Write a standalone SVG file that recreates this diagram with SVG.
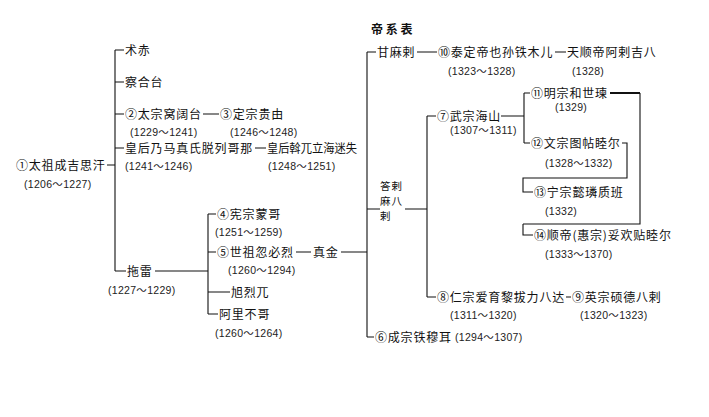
<svg xmlns="http://www.w3.org/2000/svg" width="709" height="417" viewBox="0 0 709 417">
<style>
text{font-family:"Noto Sans CJK SC","Liberation Sans",sans-serif;font-size:12px;fill:#111;letter-spacing:0.8px}
.y{font-size:10.5px;font-family:"Liberation Sans","Noto Sans CJK SC",sans-serif;fill:#222;letter-spacing:0.3px}
.t{font-weight:bold;font-size:12px;letter-spacing:0}
.s{font-size:10.5px;letter-spacing:1px}
#conn path{fill:none;stroke:#111;stroke-width:1.1}
</style>
<rect width="709" height="417" fill="#fff"/>
<text class="t" x="371" y="34">帝 系 表</text>
<g id="conn">
<path d="M107 165H115M115 50V271M115 50H124M115 82H124M115 114H124M203 114H219M115 148H124M255 148H266M115 271H126M155 271H208M208 214V314M208 214H216M208 252H216M296 252H311M341 252H367M208 292H230M208 314H218M367 52V337M367 52H376M417 52H437M555 52H566M367 209H380M405 209H427M427 116V297M427 116H436M501 116H524M524 93V143M524 93H530M524 143H530M622 143H627V178H523V192H533M523 224H640V93M523 224V235H533M427 297H436M566 297H571M367 337H374"/>
<path d="M610 93H640" style="stroke-width:2"/>
</g>
<g id="n1"><text x="16" y="170">①太祖成吉思汗</text><text class="y" x="24" y="188">(1206～1227)</text></g>
<g id="n-zhuchi"><text x="125" y="55">术赤</text></g>
<g id="n-chahetai"><text x="125" y="87">察合台</text></g>
<g id="n2"><text x="125" y="119">②太宗窝阔台</text><text class="y" x="130" y="136">(1229～1241)</text></g>
<g id="n3"><text x="220" y="119">③定宗贵由</text><text class="y" x="230" y="136">(1246～1248)</text></g>
<g id="n-nmz"><text x="125" y="153">皇后乃马真氏脱列哥那</text><text class="y" x="125" y="170">(1241～1246)</text></g>
<g id="n-hmsh"><text x="267" y="153" textLength="90" lengthAdjust="spacingAndGlyphs" style="letter-spacing:0">皇后斡兀立海迷失</text><text class="y" x="268" y="170">(1248～1251)</text></g>
<g id="n-tuolei"><text x="127" y="276">拖雷</text><text class="y" x="108" y="294">(1227～1229)</text></g>
<g id="n4"><text x="217" y="219">④宪宗蒙哥</text><text class="y" x="215" y="236">(1251～1259)</text></g>
<g id="n5"><text x="217" y="257">⑤世祖忽必烈</text><text class="y" x="228" y="274">(1260～1294)</text></g>
<g id="n-zhenjin"><text x="313" y="257">真金</text></g>
<g id="n-xuliewu"><text x="231" y="297">旭烈兀</text></g>
<g id="n-alibuge"><text x="219" y="319">阿里不哥</text><text class="y" x="215" y="337">(1260～1264)</text></g>
<g id="n-ganmala"><text x="377" y="57">甘麻剌</text></g>
<g id="n10"><text x="438" y="57">⑩泰定帝也孙铁木儿</text><text class="y" x="448" y="75">(1323～1328)</text></g>
<g id="n-tianshun"><text x="567" y="57">天顺帝阿剌吉八</text><text class="y" x="572" y="75">(1328)</text></g>
<g id="n-dalamabala"><text class="s" x="380" y="190">答剌</text><text class="s" x="380" y="205">麻八</text><text class="s" x="380" y="220">剌</text></g>
<g id="n7"><text x="437" y="121">⑦武宗海山</text><text class="y" x="450" y="134">(1307～1311)</text></g>
<g id="n11"><text x="531" y="98">⑪明宗和世瑓</text><text class="y" x="555" y="111">(1329)</text></g>
<g id="n12"><text x="531" y="148">⑫文宗图帖睦尔</text><text class="y" x="545" y="167">(1328～1332)</text></g>
<g id="n13"><text x="534" y="197">⑬宁宗懿璘质班</text><text class="y" x="545" y="215">(1332)</text></g>
<g id="n14"><text x="534" y="240">⑭顺帝(惠宗)妥欢贴睦尔</text><text class="y" x="545" y="258">(1333～1370)</text></g>
<g id="n8"><text x="437" y="302">⑧仁宗爱育黎拔力八达</text><text class="y" x="450" y="319">(1311～1320)</text></g>
<g id="n9"><text x="572" y="302">⑨英宗硕德八剌</text><text class="y" x="580" y="319">(1320～1323)</text></g>
<g id="n6"><text x="375" y="342">⑥成宗铁穆耳</text><text class="y" x="455" y="341">(1294～1307)</text></g>
</svg>
